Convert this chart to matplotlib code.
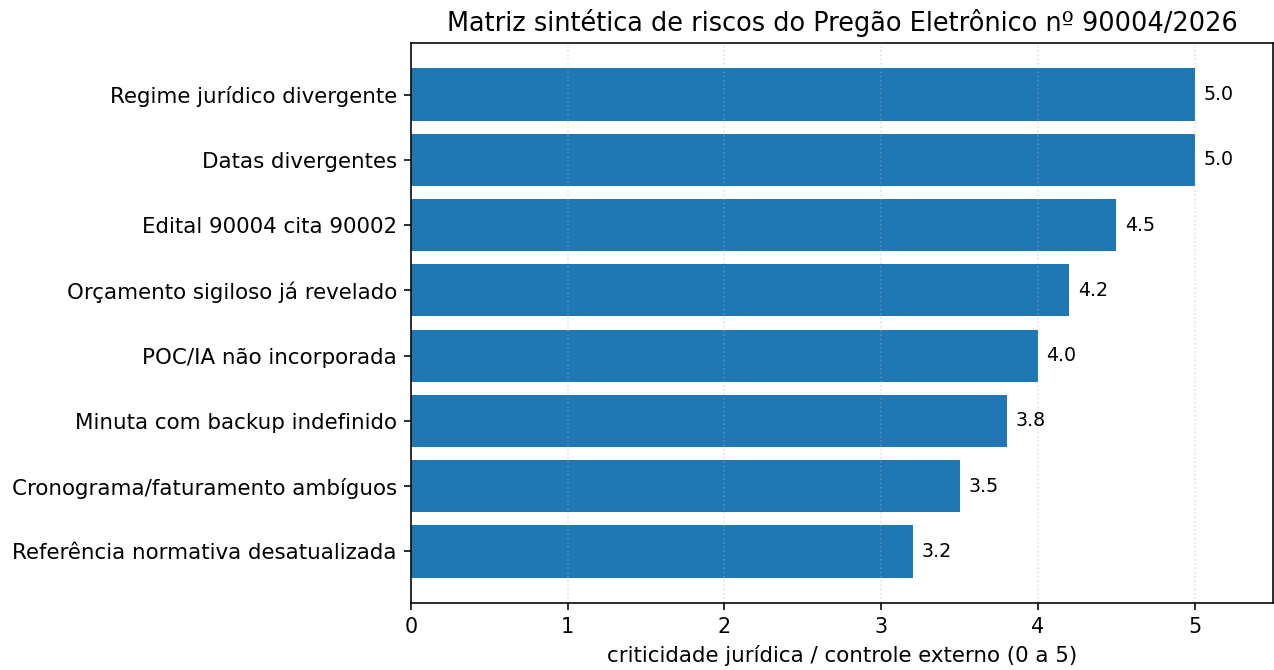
import matplotlib
matplotlib.use("Agg")
import matplotlib.pyplot as plt

# Risk items (top to bottom) and their criticality score
riscos = [
    "Regime jurídico divergente",
    "Datas divergentes",
    "Edital 90004 cita 90002",
    "Orçamento sigiloso já revelado",
    "POC/IA não incorporada",
    "Minuta com backup indefinido",
    "Cronograma/faturamento ambíguos",
    "Referência normativa desatualizada",
]
criticidade = [5.0, 5.0, 4.5, 4.2, 4.0, 3.8, 3.5, 3.2]

DPI = 144
W, H = 1274, 670
fig = plt.figure(figsize=(W / DPI, H / DPI), dpi=DPI)
ax = fig.add_axes([411 / W, 1 - 603 / H, (1273 - 411) / W, (603 - 43) / H])

# barh draws bottom-up, so reverse to keep first item on top
ax.barh(riscos[::-1], criticidade[::-1], color="#1f77b4", height=0.8)

for i, v in enumerate(criticidade[::-1]):
    ax.text(v + 0.055, i, f"{v:.1f}", va="center", ha="left", fontsize=9.5)

ax.set_xlim(0, 5.5)
ax.grid(axis="x", linestyle=":", alpha=0.4)
ax.tick_params(axis="y", labelsize=10.7)
ax.tick_params(axis="x", labelsize=10.4)
ax.set_xlabel("criticidade jurídica / controle externo (0 a 5)", fontsize=10.7)
ax.set_title("Matriz sintética de riscos do Pregão Eletrônico nº 90004/2026", fontsize=12.8)

fig.savefig("out.png", dpi=DPI)
